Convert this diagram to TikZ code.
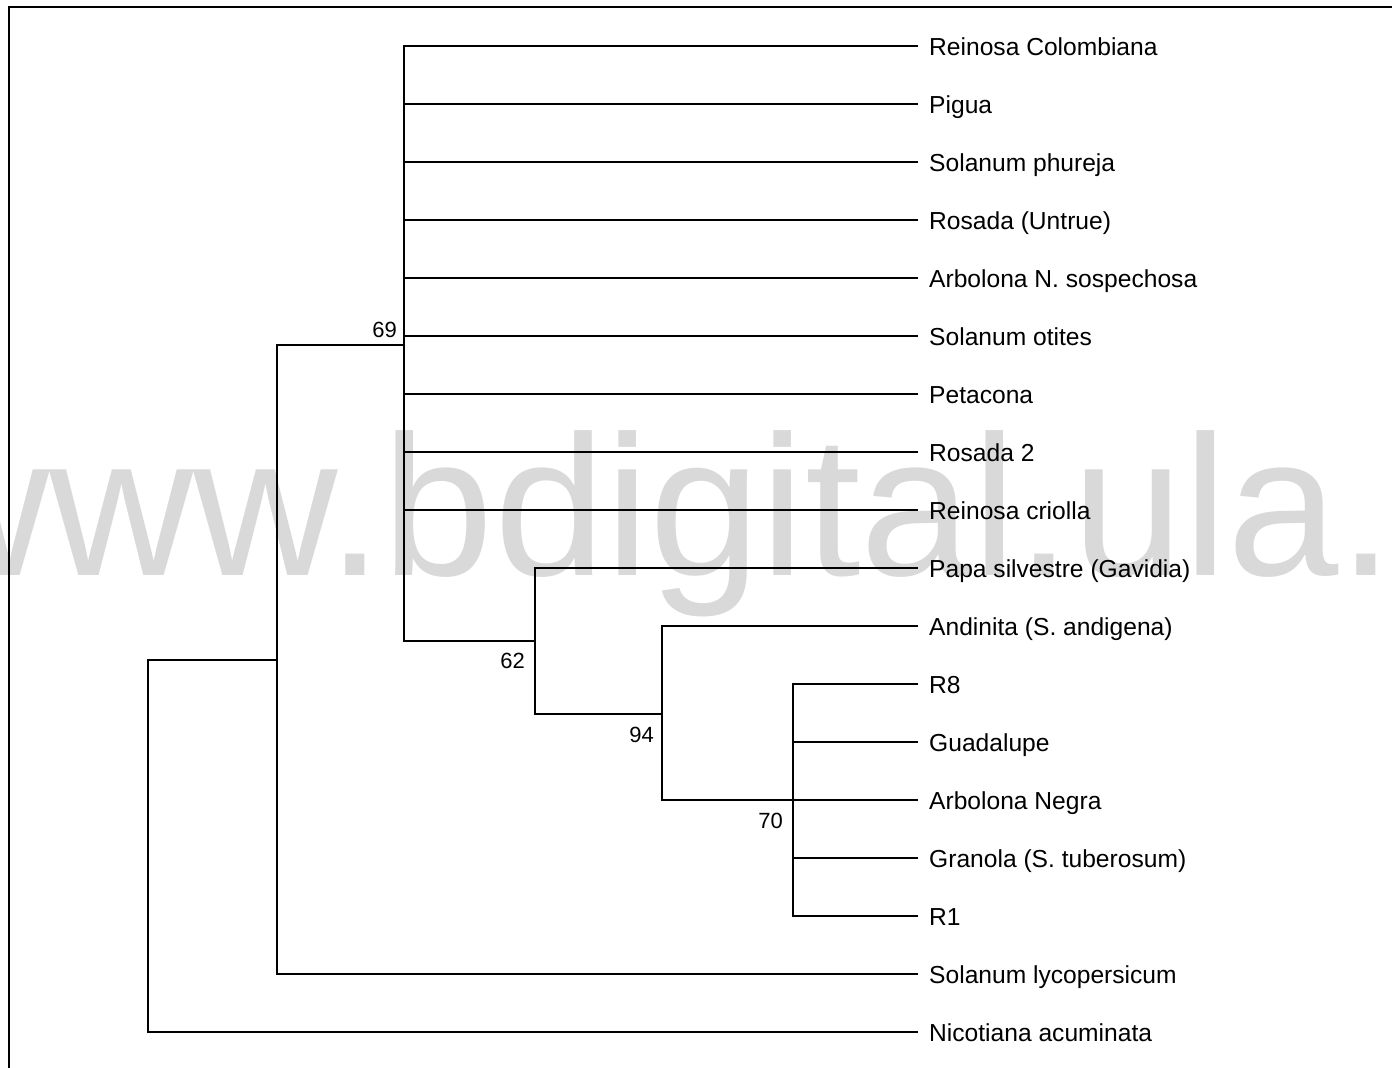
\documentclass[tikz,border=0pt]{standalone}
\usepackage{fontspec}
\setmainfont{Liberation Sans}
\usetikzlibrary{positioning}

\begin{document}
\begin{tikzpicture}[x=1pt,y=-1pt,
  branch/.style={line width=2pt,line cap=rect},
  taxon/.style={anchor=base west,inner xsep=12pt,inner ysep=0pt,font=\fontsize{24.6}{25}\selectfont},
  boot/.style={inner sep=0pt,font=\fontsize{22}{22}\selectfont}]
\useasboundingbox (0,0) rectangle (1392,1068);
% watermark behind the tree
\begin{scope}
  \clip (0,0) rectangle (1392,1068);
  \node[anchor=base west,inner sep=0pt,text=black!15,font=\fontsize{200}{200}\selectfont]
    (wmark) at (-95,575) {www.bdigital.ula.};
\end{scope}
% frame
\draw[line width=2.5pt] (9,1068) -- (9,7) -- (1392,7);
% taxa
\foreach \i/\txt in {1/Reinosa Colombiana,2/Pigua,3/Solanum phureja,4/Rosada (Untrue),
  5/Arbolona N. sospechosa,6/Solanum otites,7/Petacona,8/Rosada 2,9/Reinosa criolla,
  10/Papa silvestre (Gavidia),11/Andinita (S. andigena),12/R8,13/Guadalupe,
  14/Arbolona Negra,15/Granola (S. tuberosum),16/R1,17/Solanum lycopersicum,
  18/Nicotiana acuminata} {
  \node[taxon] (t\i) at (917,{58*\i-3}) {\txt};
  \coordinate (s\i) at (917,{58*\i-12});
}
% internal nodes
\coordinate (n70) at (793,800);
\coordinate (n94) at (662,714);
\coordinate (n62) at (535,641);
\coordinate (n69) at (404,345);
\coordinate (nsol) at (277,660);
\coordinate (root) at (148,846);
% branches
\foreach \i in {1,...,9} \draw[branch] (n69) |- (s\i);
\draw[branch] (n69) |- (n62);
\draw[branch] (n62) |- (s10);
\draw[branch] (n62) |- (n94);
\draw[branch] (n94) |- (s11);
\draw[branch] (n94) |- (n70);
\foreach \i in {12,...,16} \draw[branch] (n70) |- (s\i);
\draw[branch] (nsol) |- (n69);
\draw[branch] (nsol) |- (s17);
\draw[branch] (root) |- (nsol);
\draw[branch] (root) |- (s18);
% bootstrap values
\node[boot,anchor=base east] (b69) at (397,337) {69};
\node[boot,anchor=north east] (b62) at (525,653) {62};
\node[boot,anchor=north east] (b94) at (654,727) {94};
\node[boot,anchor=north east] (b70) at (783,813) {70};
\end{tikzpicture}
\end{document}
